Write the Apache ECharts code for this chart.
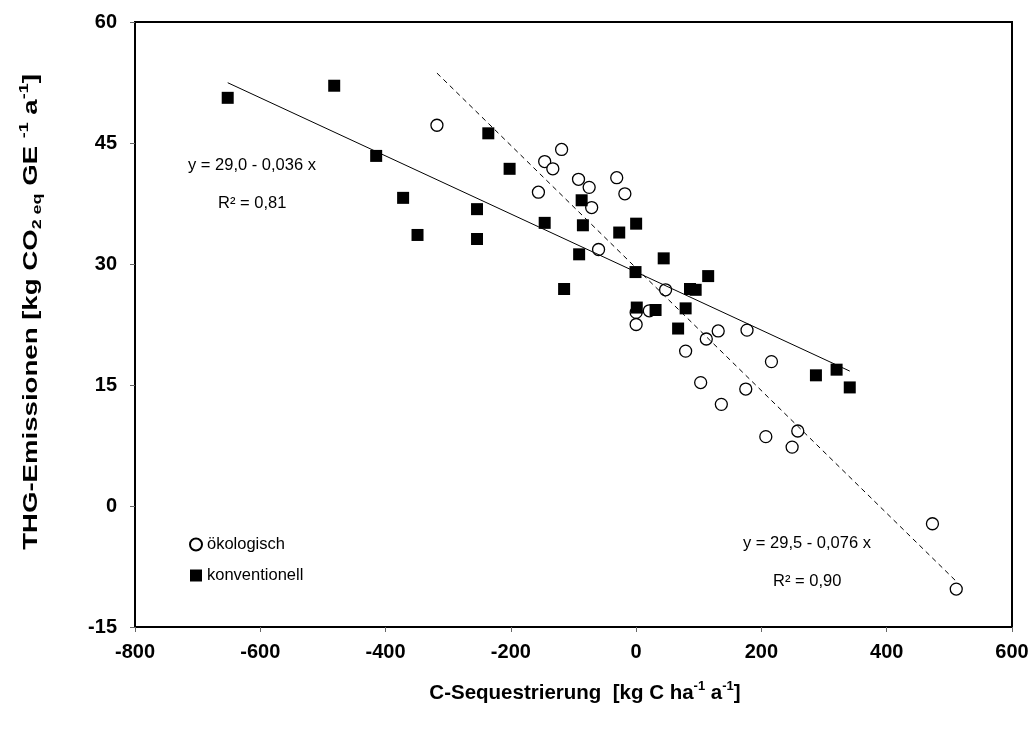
<!DOCTYPE html>
<html>
<head>
<meta charset="utf-8">
<script src="https://cdn.jsdelivr.net/npm/echarts@6/dist/echarts.min.js"></script>
<style>
  html, body { margin: 0; padding: 0; background: #fff; }
  #chart { width: 1035px; height: 733px; }
</style>
</head>
<body>
<div id="chart"></div>
<script>
// ökologisch (Kreise) / konventionell (Quadrate)
const organicX = [-318, -119, -146, -133, -92, -75, -31, -18, -156, -71, -60, 47, 0, 21, 0, 112, 131, 177, 79, 216, 103, 175, 136, 258, 207, 249, 473, 511];
const organicY = [47.2, 44.2, 42.7, 41.8, 40.5, 39.5, 40.7, 38.7, 38.9, 37.0, 31.8, 26.8, 24.0, 24.2, 22.5, 20.7, 21.7, 21.8, 19.2, 17.9, 15.3, 14.5, 12.6, 9.3, 8.6, 7.3, -2.2, -10.3];

const conventionalX = [-652, -482, -415, -236, -202, -372, -254, -349, -254, -87, -146, -85, -27, 0, -91, 44, -1, -115, 115, 86, 95, 1, 31, 79, 67, 320, 287, 341];
const conventionalY = [50.6, 52.1, 43.4, 46.2, 41.8, 38.2, 36.8, 33.6, 33.1, 37.9, 35.1, 34.8, 33.9, 35.0, 31.2, 30.7, 29.0, 26.9, 28.5, 26.9, 26.8, 24.6, 24.3, 24.5, 22.0, 16.9, 16.2, 14.7];

// Regressionsgeraden: [ökologisch, konventionell]
const fitIntercept = [29.5, 29.0];
const fitSlope = [-0.076, -0.036];
const fitRange = [[-318, 511], [-652, 341]];
const fitLabels = [['y = 29,5 - 0,076 x', 'R² = 0,90'], ['y = 29,0 - 0,036 x', 'R² = 0,81']];

const seriesNames = ['ökologisch', 'konventionell'];
const xTitle = 'C-Sequestrierung  [kg C ha{sup|-1} a{sup|-1}]';
const yTitle = 'THG-Emissionen [kg CO{sub|2 eq} GE {sup|-1} a{sup|-1}]';

const font = 'Liberation Sans, Arial, sans-serif';

function zip(xs, ys) {
  return xs.map(function(x, i) { return [x, ys[i]]; });
}

function fitLine(k) {
  return fitRange[k].map(function(x) { return [x, fitIntercept[k] + fitSlope[k] * x]; });
}

const titleRich = {
  sub: { fontFamily: font, fontWeight: 'bold', fontSize: 13, lineHeight: 13, verticalAlign: 'bottom', fill: '#000' },
  sup: { fontFamily: font, fontWeight: 'bold', fontSize: 13, lineHeight: 13, verticalAlign: 'top', fill: '#000' },
};

function note(text, left, y) {
  return {
    type: 'text', x: left, y: y,
    style: { text: text, fontFamily: font, fontSize: 16.5, fill: '#000', verticalAlign: 'middle' },
  };
}

const chart = echarts.init(document.getElementById('chart'));

const option = {
  animation: false,
  backgroundColor: '#fff',
  grid: {
    left: 135,
    right: 23,
    top: 22,
    bottom: 106,
    show: true,
    borderColor: '#000',
    borderWidth: 2,
  },
  legend: {
    data: seriesNames,
    orient: 'vertical',
    left: 184,
    top: 531,
    itemWidth: 12,
    itemHeight: 12,
    itemGap: 14,
    textStyle: { fontFamily: font, fontSize: 16.5, color: '#000' },
  },
  xAxis: {
    type: 'value',
    min: -800,
    max: 600,
    interval: 200,
    splitLine: { show: false },
    axisLine: { onZero: false, lineStyle: { color: '#000', width: 2 } },
    axisTick: { length: 5, lineStyle: { color: '#666' } },
    axisLabel: { margin: 15, fontFamily: font, fontWeight: 'bold', fontSize: 20, color: '#000' },
  },
  yAxis: {
    type: 'value',
    min: -15,
    max: 60,
    interval: 15,
    splitLine: { show: false },
    axisLine: { onZero: false, lineStyle: { color: '#000', width: 2 } },
    axisTick: { length: 5, lineStyle: { color: '#666' } },
    axisLabel: { margin: 18, fontFamily: font, fontWeight: 'bold', fontSize: 20, color: '#000' },
  },
  series: [{
    name: seriesNames[0],
    type: 'scatter',
    symbol: 'circle',
    symbolSize: 12,
    itemStyle: { color: '#fff', borderColor: '#000', borderWidth: 1.3, opacity: 1 },
    data: zip(organicX, organicY),
    z: 3,
  }, {
    name: seriesNames[1],
    type: 'scatter',
    symbol: 'rect',
    symbolSize: 12,
    itemStyle: { color: '#000', opacity: 1 },
    data: zip(conventionalX, conventionalY),
    z: 3,
  }, {
    name: 'fit ' + seriesNames[0],
    type: 'line',
    data: fitLine(0),
    symbol: 'none',
    silent: true,
    lineStyle: { color: '#000', width: 1, type: [5, 4] },
    z: 4,
  }, {
    name: 'fit ' + seriesNames[1],
    type: 'line',
    data: fitLine(1),
    symbol: 'none',
    silent: true,
    lineStyle: { color: '#000', width: 1 },
    z: 4,
  }],
  graphic: [
    note(fitLabels[0][0], 743, 543),
    note(fitLabels[0][1], 773, 581),
    note(fitLabels[1][0], 188, 165),
    note(fitLabels[1][1], 218, 203),
    {
      type: 'text', x: 585, y: 693,
      style: {
        text: xTitle, fontFamily: font, fontWeight: 'bold', fontSize: 20.5, fill: '#000',
        align: 'center', verticalAlign: 'middle', lineHeight: 26, rich: titleRich,
      },
    },
    {
      type: 'text', x: 31, y: 312, rotation: Math.PI / 2, scaleX: 1.38,
      style: {
        text: yTitle, fontFamily: font, fontWeight: 'bold', fontSize: 20, fill: '#000',
        align: 'center', verticalAlign: 'middle', lineHeight: 26, rich: titleRich,
      },
    },
  ],
};

chart.setOption(option);
</script>
</body>
</html>
